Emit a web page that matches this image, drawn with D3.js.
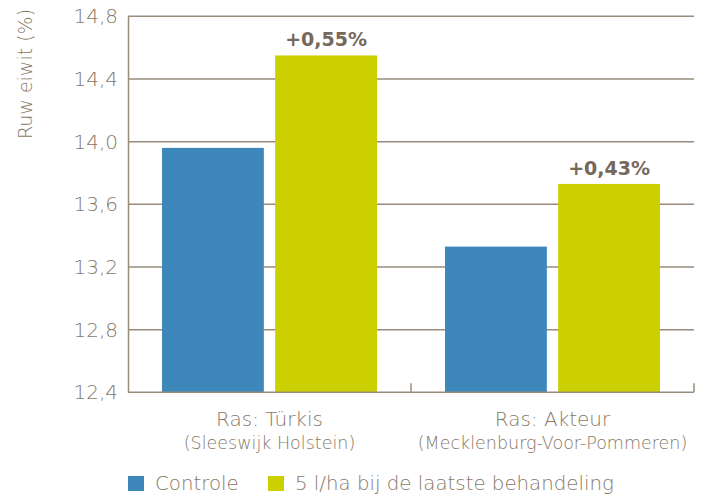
<!DOCTYPE html>
<html>
<head>
<meta charset="utf-8">
<script src="https://cdn.jsdelivr.net/npm/d3@7"></script>
<style>
	body { margin: 0; background: #fff; }
	text { font-family: "DejaVu Sans", sans-serif; }
</style>
</head>
<body>
<div id="chart"></div>
<script>
	var categories = ["Ras: Türkis", "Ras: Akteur"];
	var subtitles = ["(Sleeswijk Holstein)", "(Mecklenburg-Voor-Pommeren)"];
	var seriesNames = ["Controle", "5 l/ha bij de laatste behandeling"];
	var controle = [13.96, 13.33];
	var behandeld = [14.55, 13.73];
	var differences = ["+0,55%", "+0,43%"];
	var yTicks = [12.4, 12.8, 13.2, 13.6, 14.0, 14.4, 14.8];

	var width = 705, height = 497;
	var colors = ["#3d87bb", "#cccf00"];
	var textColor = "#857868";
	var lineColor = "#988c7d";
	var fontFamily = "'DejaVu Sans', sans-serif";
	var lightWeight = 300;

	var svg = d3.select("#chart").append("svg")
		.attr("width", width)
		.attr("height", height);

	var plotLeft = 128, plotRight = 694, plotTop = 16.3, plotBottom = 392.3;

	var y = d3.scaleLinear().domain([12.4, 14.8]).range([plotBottom, plotTop]);
	var x0 = d3.scaleBand().domain(categories).range([plotLeft, plotRight]);
	var x1 = d3.scaleBand().domain(seriesNames)
		.range([34, x0.bandwidth() - 34])
		.paddingInner(0.1);

	// gridlines
	svg.append("g").selectAll("line").data(yTicks.slice(1))
		.enter().append("line")
		.attr("x1", plotLeft).attr("x2", plotRight)
		.attr("y1", function(d) { return y(d); })
		.attr("y2", function(d) { return y(d); })
		.attr("stroke", lineColor)
		.attr("stroke-width", 1.5);

	// bars
	var groups = svg.append("g").selectAll("g").data(categories)
		.enter().append("g")
		.attr("transform", function(d) { return "translate(" + x0(d) + ",0)"; });

	groups.selectAll("rect").data(function(d, i) {
			return [{s: seriesNames[0], v: controle[i]}, {s: seriesNames[1], v: behandeld[i]}];
		})
		.enter().append("rect")
		.attr("x", function(d) { return x1(d.s); })
		.attr("width", x1.bandwidth())
		.attr("y", function(d) { return y(d.v); })
		.attr("height", function(d) { return plotBottom - y(d.v); })
		.attr("fill", function(d, i) { return colors[i]; });

	// difference labels
	groups.append("text")
		.attr("x", x1(seriesNames[1]) + x1.bandwidth() / 2)
		.attr("y", function(d, i) { return y(behandeld[i]) - 9; })
		.attr("text-anchor", "middle")
		.attr("font-family", fontFamily)
		.attr("font-size", "19px")
		.attr("font-weight", "bold")
		.attr("fill", "#76685a")
		.text(function(d, i) { return differences[i]; });

	// y axis
	var yAxis = svg.append("g")
		.attr("transform", "translate(" + plotLeft + ",0)")
		.call(d3.axisLeft(y).tickValues(yTicks).tickSize(0).tickPadding(10)
			.tickFormat(function(d) { return d3.format(".1f")(d).replace(".", ","); }));
	yAxis.select(".domain").attr("stroke", lineColor).attr("stroke-width", 1.5);
	yAxis.selectAll("text")
		.attr("font-family", fontFamily)
		.attr("font-size", "20px")
		.attr("font-weight", lightWeight)
		.attr("fill", textColor);

	// baseline with ticks
	var xAxis = svg.append("g")
		.attr("transform", "translate(0," + plotBottom + ")");
	xAxis.append("line")
		.attr("x1", plotLeft).attr("x2", plotRight)
		.attr("stroke", lineColor).attr("stroke-width", 1.5);
	xAxis.selectAll("line.tick").data(categories)
		.enter().append("line")
		.classed("tick", true)
		.attr("x1", function(d) { return x0(d) + x0.bandwidth(); })
		.attr("x2", function(d) { return x0(d) + x0.bandwidth(); })
		.attr("y1", 0).attr("y2", -9)
		.attr("stroke", lineColor).attr("stroke-width", 1.5);

	xAxis.selectAll("text.cat").data(categories)
		.enter().append("text")
		.classed("cat", true)
		.attr("x", function(d) { return x0(d) + x0.bandwidth() / 2; })
		.attr("y", 34)
		.attr("text-anchor", "middle")
		.attr("font-size", "20px")
		.attr("font-weight", lightWeight)
		.attr("fill", textColor)
		.text(function(d) { return d; });
	xAxis.selectAll("text.sub").data(subtitles)
		.enter().append("text")
		.classed("sub", true)
		.attr("x", function(d, i) { return x0(categories[i]) + x0.bandwidth() / 2; })
		.attr("y", 57)
		.attr("text-anchor", "middle")
		.attr("font-size", "17.5px")
		.attr("font-weight", lightWeight)
		.attr("fill", textColor)
		.text(function(d) { return d; });

	// y axis title
	svg.append("text")
		.attr("transform", "translate(32,74) rotate(-90)")
		.attr("text-anchor", "middle")
		.attr("font-size", "19px")
		.attr("font-weight", lightWeight)
		.attr("fill", textColor)
		.text("Ruw eiwit (%)");

	// legend
	var legendX = [128, 268];
	var legend = svg.append("g").selectAll("g").data(seriesNames)
		.enter().append("g")
		.attr("transform", function(d, i) { return "translate(" + legendX[i] + ",476)"; });
	legend.append("rect")
		.attr("width", 16).attr("height", 15)
		.attr("fill", function(d, i) { return colors[i]; });
	legend.append("text")
		.attr("x", 27).attr("y", 14)
		.attr("font-size", "19.8px")
		.attr("font-weight", lightWeight)
		.attr("fill", textColor)
		.text(function(d) { return d; });
</script>
</body>
</html>
